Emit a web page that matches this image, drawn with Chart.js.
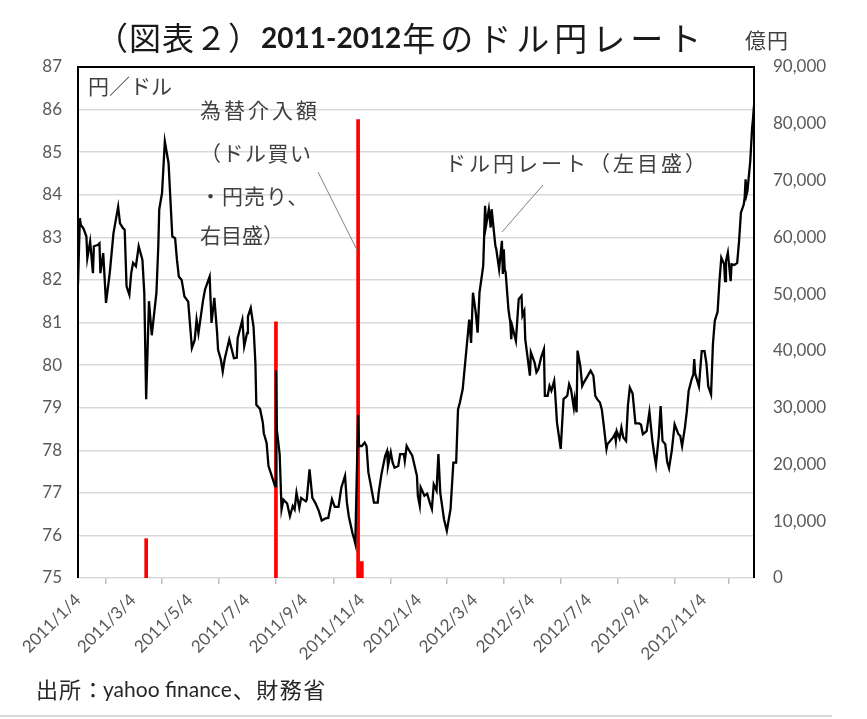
<!DOCTYPE html>
<html>
<head>
<meta charset="utf-8">
<script src="https://cdn.jsdelivr.net/npm/chart.js@4.4.1/dist/chart.umd.min.js"></script>
<style>
  html, body { margin: 0; padding: 0; background: #fff; }
  canvas { display: block; }
</style>
</head>
<body>
<canvas id="c" width="867" height="719"></canvas>
<script>
// ドル円レート (円／ドル, daily close)
const rateDates = [
  '2011-01-04','2011-01-06','2011-01-07','2011-01-10','2011-01-13','2011-01-14','2011-01-17','2011-01-20','2011-01-21','2011-01-25',
  '2011-01-27','2011-01-28','2011-01-31','2011-02-03','2011-02-07','2011-02-09','2011-02-11','2011-02-16','2011-02-18','2011-02-21',
  '2011-02-23','2011-02-25','2011-02-28','2011-03-02','2011-03-04','2011-03-07','2011-03-10','2011-03-14','2011-03-16','2011-03-18',
  '2011-03-21','2011-03-24','2011-03-29','2011-03-31','2011-04-01','2011-04-04','2011-04-07','2011-04-11','2011-04-15','2011-04-18',
  '2011-04-20','2011-04-22','2011-04-25','2011-04-28','2011-05-02','2011-05-06','2011-05-09','2011-05-11','2011-05-13','2011-05-18',
  '2011-05-20','2011-05-25','2011-05-27','2011-05-30','2011-06-02','2011-06-03','2011-06-06','2011-06-08','2011-06-10','2011-06-15',
  '2011-06-20','2011-06-23','2011-06-24','2011-06-29','2011-07-01','2011-07-04','2011-07-05','2011-07-08','2011-07-11','2011-07-13',
  '2011-07-14','2011-07-18','2011-07-21','2011-07-22','2011-07-25','2011-07-27','2011-07-29','2011-08-03','2011-08-04','2011-08-05',
  '2011-08-08','2011-08-10','2011-08-12','2011-08-16','2011-08-19','2011-08-22','2011-08-24','2011-08-26','2011-08-29','2011-08-31',
  '2011-09-05','2011-09-06','2011-09-09','2011-09-12','2011-09-15','2011-09-19','2011-09-22','2011-09-26','2011-09-29','2011-10-03',
  '2011-10-06','2011-10-10','2011-10-13','2011-10-17','2011-10-19','2011-10-21','2011-10-25','2011-10-27','2011-10-28','2011-10-31',
  '2011-11-01','2011-11-04','2011-11-07','2011-11-09','2011-11-11','2011-11-14','2011-11-17','2011-11-21','2011-11-22','2011-11-25',
  '2011-11-29','2011-12-01','2011-12-02','2011-12-05','2011-12-07','2011-12-09','2011-12-13','2011-12-15','2011-12-19','2011-12-20',
  '2011-12-22','2011-12-23','2011-12-28','2012-01-02','2012-01-03','2012-01-05','2012-01-06','2012-01-10','2012-01-13','2012-01-16',
  '2012-01-18','2012-01-20','2012-01-23','2012-01-25','2012-01-27','2012-01-31','2012-02-03','2012-02-07','2012-02-10','2012-02-13',
  '2012-02-15','2012-02-17','2012-02-20','2012-02-22','2012-02-24','2012-02-27','2012-02-29','2012-03-02','2012-03-05','2012-03-07',
  '2012-03-09','2012-03-13','2012-03-15','2012-03-16','2012-03-19','2012-03-21','2012-03-22','2012-03-26','2012-03-27','2012-03-30',
  '2012-04-02','2012-04-03','2012-04-04','2012-04-05','2012-04-06','2012-04-09','2012-04-11','2012-04-12','2012-04-13','2012-04-17',
  '2012-04-20','2012-04-23','2012-04-24','2012-04-26','2012-04-27','2012-05-02','2012-05-03','2012-05-07','2012-05-09','2012-05-11',
  '2012-05-14','2012-05-17','2012-05-18','2012-05-21','2012-05-23','2012-05-25','2012-05-28','2012-05-29','2012-05-31','2012-06-04',
  '2012-06-07','2012-06-11','2012-06-13','2012-06-15','2012-06-18','2012-06-19','2012-06-21','2012-06-22','2012-06-25','2012-06-27',
  '2012-06-29','2012-07-02','2012-07-04','2012-07-06','2012-07-09','2012-07-11','2012-07-13','2012-07-16','2012-07-18','2012-07-20',
  '2012-07-23','2012-07-24','2012-07-27','2012-07-30','2012-08-01','2012-08-02','2012-08-03','2012-08-06','2012-08-08','2012-08-10',
  '2012-08-13','2012-08-15','2012-08-17','2012-08-20','2012-08-23','2012-08-27','2012-08-29','2012-08-31','2012-09-04','2012-09-07',
  '2012-09-10','2012-09-12','2012-09-14','2012-09-17','2012-09-19','2012-09-21','2012-09-24','2012-09-26','2012-09-28','2012-10-01',
  '2012-10-04','2012-10-08','2012-10-10','2012-10-12','2012-10-15','2012-10-17','2012-10-19','2012-10-22','2012-10-24','2012-10-25',
  '2012-10-26','2012-10-30','2012-11-02','2012-11-05','2012-11-07','2012-11-09','2012-11-12','2012-11-14','2012-11-16','2012-11-19',
  '2012-11-21','2012-11-23','2012-11-26','2012-11-27','2012-11-28','2012-11-30','2012-12-03','2012-12-04','2012-12-07','2012-12-10',
  '2012-12-12','2012-12-14','2012-12-17','2012-12-18','2012-12-19','2012-12-20','2012-12-21','2012-12-24','2012-12-26','2012-12-27',
  '2012-12-28'
];
const rates = [
  81.9, 83.45, 83.3, 83.2, 83.02, 82.51, 82.9, 82.16, 82.79, 82.82,
  82.86, 82.16, 82.63, 81.46, 82.16, 82.63, 83.1, 83.72, 83.33, 83.22,
  83.18, 81.85, 81.65, 82.16, 82.4, 82.32, 82.79, 82.47, 81.69, 79.2,
  81.5, 80.7, 81.7, 82.79, 83.65, 84.04, 85.25, 84.74, 83.02, 82.98,
  82.47, 82.08, 82.0, 81.61, 81.49, 80.4, 80.59, 81.06, 80.75, 81.53,
  81.77, 82.08, 80.99, 81.58, 80.75, 80.36, 80.13, 79.85, 80.13, 80.6,
  80.16, 80.17, 80.63, 81.06, 80.44, 80.75, 81.14, 81.34, 80.9, 80.05,
  79.07, 78.97, 78.64, 78.4, 78.17, 77.63, 77.5, 77.16, 79.88, 78.48,
  77.9, 76.61, 76.84, 76.75, 76.45, 76.69, 76.61, 77.0, 76.65, 76.88,
  76.8, 76.84, 77.55, 76.88, 76.77, 76.57, 76.35, 76.4, 76.41, 76.85,
  76.67, 76.67, 77.12, 77.4, 76.77, 76.45, 76.05, 75.9, 75.81, 78.83,
  78.1, 78.1, 78.18, 78.1, 77.48, 77.13, 76.77, 76.77, 77.0, 77.44,
  77.87, 77.98, 77.63, 77.95, 77.71, 77.59, 77.63, 77.91, 77.91, 77.75,
  78.1, 78.06, 77.87, 77.4, 76.93, 76.7, 77.13, 76.93, 76.98, 76.75,
  76.62, 77.2, 77.05, 77.91, 77.0, 76.38, 76.11, 76.62, 77.71, 77.71,
  78.96, 79.12, 79.43, 79.9, 80.37, 81.07, 80.52, 81.7, 81.23, 80.76,
  81.7, 82.33, 83.74, 83.27, 83.66, 83.23, 83.66, 82.8, 82.72, 82.25,
  82.92, 82.14, 82.72, 82.25, 82.18, 81.31, 81.0, 80.61, 80.92, 80.57,
  81.55, 81.63, 81.16, 81.27, 80.61, 79.75, 80.3, 80.06, 79.83, 79.9,
  80.18, 80.37, 79.28, 79.28, 79.51, 79.4, 79.63, 79.36, 78.65, 78.03,
  79.2, 79.28, 79.55, 79.43, 79.0, 79.2, 78.89, 80.34, 79.98, 79.51,
  79.6, 79.71, 79.79, 79.87, 79.75, 79.28, 79.2, 79.12, 78.96, 78.6,
  78.03, 78.14, 78.22, 78.3, 78.38, 78.22, 78.45, 78.28, 78.53, 78.3,
  78.22, 79.06, 79.47, 79.33, 78.63, 78.63, 78.6, 78.38, 78.45, 78.9,
  78.25, 77.93, 77.66, 78.32, 79.04, 78.22, 78.14, 77.73, 77.58, 78.0,
  78.61, 78.38, 78.34, 78.1, 78.53, 78.9, 79.39, 79.65, 79.78, 80.14,
  79.8, 79.5, 80.33, 80.33, 80.05, 79.5, 79.31, 80.49, 81.04, 81.25,
  81.97, 82.52, 82.37, 81.97, 82.44, 82.64, 81.97, 82.37, 82.35, 82.4,
  82.91, 83.58, 83.77, 83.93, 84.36, 84.0, 84.09, 84.79, 85.57, 85.8,
  86.1
];

// 為替介入額 (億円)
const interventionDates = ['2011-03-18', '2011-08-04', '2011-10-31', '2011-11-01', '2011-11-02', '2011-11-03', '2011-11-04'];
const interventionAmounts = [6925, 45129, 80722, 1000, 1050, 1000, 2900];

const tickLabels = ['2011/1/4', '2011/3/4', '2011/5/4', '2011/7/4', '2011/9/4', '2011/11/4',
                    '2012/1/4', '2012/3/4', '2012/5/4', '2012/7/4', '2012/9/4', '2012/11/4'];

const origin = Date.UTC(2011, 0, 4);
function dayIndex(s){
  const [y, m, d] = s.split(/[-\/]/).map(Number);
  return Math.round((Date.UTC(y, m - 1, d) - origin) / 86400000);
}
const xMax = dayIndex(rateDates[rateDates.length - 1]);
const tickDays = tickLabels.map(dayIndex).concat([xMax]);

const lineData = rates.map((v, i) => ({ x: dayIndex(rateDates[i]), y: v }));
const barData = interventionAmounts.map((v, i) => ({ x: dayIndex(interventionDates[i]), y: v }));

const JP = '"Noto Sans CJK JP", "Noto Sans", sans-serif';
const NUM = 'Lato, "Noto Sans", sans-serif';

function put(ctx, s, x, y, font, color, spacing){
  ctx.font = font;
  ctx.fillStyle = color;
  ctx.letterSpacing = spacing || '0px';
  ctx.fillText(s, x, y);
  return ctx.measureText(s).width;
}

const frame = {
  id: 'frame',
  afterDraw(chart){
    const ctx = chart.ctx, a = chart.chartArea;
    ctx.save();
    // plot border (top, left, right)
    ctx.strokeStyle = '#000';
    ctx.lineWidth = 2;
    ctx.beginPath();
    ctx.moveTo(a.left, a.bottom);
    ctx.lineTo(a.left, a.top);
    ctx.lineTo(a.right, a.top);
    ctx.lineTo(a.right, a.bottom);
    ctx.stroke();

    ctx.textBaseline = 'middle';
    ctx.textAlign = 'left';

    // title
    let x = 96;
    x += put(ctx, '（図表２）', x, 38, `32px ${JP}`, '#1a1a1a', '1px');
    x += put(ctx, '2011-2012', x, 39, `bold 28px ${NUM}`, '#1a1a1a', '0px');
    put(ctx, '年のドル円レート', x + 1, 38, `33px ${JP}`, '#1a1a1a', '5px');
    put(ctx, '億円', 745, 40, `21px ${JP}`, '#404040', '1px');

    // annotations
    const af = `21px ${JP}`, ac = '#404040';
    put(ctx, '円／ドル', 88, 86, af, ac, '0px');
    put(ctx, '為替介入額', 200, 110, af, ac, '3px');
    put(ctx, '（ドル買い', 200, 153, af, ac, '1.5px');
    put(ctx, '・円売り、', 200, 196, af, ac, '1px');
    put(ctx, '右目盛）', 200, 235, af, ac, '0px');
    put(ctx, 'ドル円レート（左目盛）', 445, 163, af, ac, '3px');

    ctx.strokeStyle = '#7f7f7f';
    ctx.lineWidth = 1;
    ctx.beginPath();
    ctx.moveTo(318, 172); ctx.lineTo(357, 250);
    ctx.moveTo(543, 185); ctx.lineTo(502, 232);
    ctx.stroke();

    // source
    let fx = 36;
    fx += put(ctx, '出所：', fx, 690, `22px ${JP}`, '#262626', '1px');
    fx += put(ctx, 'yahoo finance', fx - 2, 690, `21px ${NUM}`, '#262626', '0px');
    put(ctx, '、財務省', fx - 1, 690, `22px ${JP}`, '#262626', '1.5px');

    ctx.strokeStyle = '#d9d9d9';
    ctx.lineWidth = 2;
    ctx.beginPath();
    ctx.moveTo(0, 716); ctx.lineTo(832, 716);
    ctx.stroke();
    ctx.restore();
  }
};

new Chart(document.getElementById('c').getContext('2d'), {
  type: 'bar',
  data: {
    datasets: [
      { type: 'line', label: 'ドル円レート', data: lineData, yAxisID: 'y',
        borderColor: '#000', borderWidth: 2.3, pointRadius: 0, tension: 0, order: 0 },
      { type: 'bar', label: '為替介入額', data: barData, yAxisID: 'y1',
        backgroundColor: '#ff0000', barThickness: 3, order: 1 }
    ]
  },
  options: {
    responsive: false,
    animation: false,
    devicePixelRatio: 1,
    layout: { padding: { top: 67, left: 0, right: 0, bottom: 0 } },
    plugins: { legend: { display: false }, tooltip: { enabled: false } },
    scales: {
      x: {
        type: 'linear', min: 0, max: xMax, offset: false,
        afterBuildTicks: s => { s.ticks = tickDays.map(v => ({ value: v })); },
        afterFit: s => { s.height = 141; },
        grid: { drawOnChartArea: false, drawTicks: true, tickLength: 6, color: '#bfbfbf', lineWidth: 1.5 },
        border: { display: false },
        ticks: { autoSkip: false, minRotation: 45, maxRotation: 45, padding: 6,
                 color: '#595959', font: { family: NUM, size: 17 },
                 callback: (v, i) => tickLabels[i] || '' }
      },
      y: {
        position: 'left', min: 75, max: 87,
        afterFit: s => { s.width = 78; },
        grid: { color: '#d9d9d9', lineWidth: 1.5, drawTicks: false },
        border: { display: false },
        ticks: { stepSize: 1, padding: 16, color: '#595959', font: { family: NUM, size: 17 } }
      },
      y1: {
        position: 'right', min: 0, max: 90000,
        afterFit: s => { s.width = 113; },
        grid: { display: false, drawTicks: false },
        border: { display: false },
        ticks: { stepSize: 10000, padding: 19, color: '#595959', font: { family: NUM, size: 17 },
                 callback: v => v.toLocaleString('en-US') }
      }
    }
  },
  plugins: [frame]
});
</script>
</body>
</html>
